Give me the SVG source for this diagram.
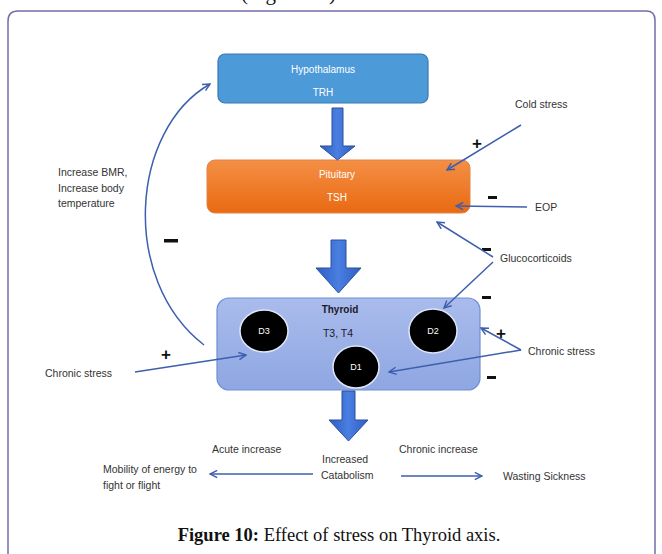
<svg xmlns="http://www.w3.org/2000/svg" width="662" height="554" viewBox="0 0 662 554">
<style>
.lbl{font-family:"Liberation Sans",Arial,sans-serif;font-size:10.5px;fill:#333333}
.wt{font-family:"Liberation Sans",Arial,sans-serif;font-size:10px;fill:#ffffff;text-anchor:middle}
.dk{font-family:"Liberation Sans",Arial,sans-serif;font-size:9px;fill:#ffffff;text-anchor:middle}
.sign{font-family:"Liberation Sans",Arial,sans-serif;font-weight:bold;fill:#111;font-size:17px}
.dash{fill:#111}
.con{fill:none;stroke:#3d5fae;stroke-width:1.5}
.blk{fill:url(#bg);stroke:#2c4f9c;stroke-width:1}
.cap{font-family:"Liberation Serif","Times New Roman",serif;font-size:18.5px;fill:#111}
</style>
<defs>
<marker id="ah" viewBox="0 0 10 10" refX="9" refY="5" markerWidth="9" markerHeight="9" orient="auto" markerUnits="userSpaceOnUse">
<path d="M1,1 L9,5 L1,9" fill="none" stroke="#3d5fae" stroke-width="1.6"/>
</marker>
<linearGradient id="bg" x1="0" y1="0" x2="1" y2="0">
<stop offset="0" stop-color="#2f5fc4"/><stop offset="0.5" stop-color="#4a7ee0"/><stop offset="1" stop-color="#2f5fc4"/>
</linearGradient>
<linearGradient id="og" x1="0" y1="0" x2="0" y2="1">
<stop offset="0" stop-color="#f48f45"/><stop offset="1" stop-color="#e96a12"/>
</linearGradient>
<linearGradient id="tg" x1="0" y1="0" x2="0" y2="1">
<stop offset="0" stop-color="#aabcec"/><stop offset="1" stop-color="#8ea6e2"/>
</linearGradient>
</defs>
<rect width="662" height="554" fill="#ffffff"/>
<text class="cap" x="241" y="0" style="font-size:21px">(Figure 10)</text>
<path d="M8,554 V21 Q8,11 18,11 H646 Q655,11 655,20 V554" fill="none" stroke="#6f6fa8" stroke-width="1.5"/>

<g id="hypothalamus">
<rect x="218" y="54" width="210" height="49" rx="7" fill="#4d9ad9" stroke="#3a78b5" stroke-width="1.2"/>
<text class="wt" x="323" y="73">Hypothalamus</text>
<text class="wt" x="323" y="96">TRH</text>
</g>
<g id="pituitary">
<rect x="207" y="160" width="263" height="53" rx="8" fill="url(#og)" stroke="#e0844a" stroke-width="1"/>
<text class="wt" x="337" y="178">Pituitary</text>
<text class="wt" x="337" y="201">TSH</text>
</g>
<g id="thyroid">
<rect x="217" y="298" width="263" height="92" rx="12" fill="url(#tg)" stroke="#6f8fd2" stroke-width="1.2"/>
<text x="340" y="313" style="font-family:'Liberation Sans',Arial,sans-serif;font-size:10px;font-weight:bold;fill:#1a1a2a;text-anchor:middle">Thyroid</text>
<text x="338" y="337" style="font-family:'Liberation Sans',Arial,sans-serif;font-size:10.5px;fill:#1a1a2a;text-anchor:middle">T3, T4</text>
</g>
<g id="d3">
<ellipse cx="264" cy="331" rx="24" ry="21" fill="#000" stroke="#dfe6f8" stroke-width="1.5"/>
<text class="dk" x="264" y="334">D3</text>
</g>
<g id="d2">
<ellipse cx="433" cy="331" rx="24" ry="22" fill="#000" stroke="#dfe6f8" stroke-width="1.5"/>
<text class="dk" x="433" y="334">D2</text>
</g>
<g id="d1">
<ellipse cx="356" cy="367" rx="23" ry="21" fill="#000" stroke="#dfe6f8" stroke-width="1.5"/>
<text class="dk" x="356" y="370">D1</text>
</g>

<g id="labels">
<text class="lbl" x="58" y="176">Increase BMR,</text>
<text class="lbl" x="58" y="192">Increase body</text>
<text class="lbl" x="58" y="207">temperature</text>
<text class="lbl" x="515" y="108">Cold stress</text>
<text class="lbl" x="535" y="211">EOP</text>
<text class="lbl" x="500" y="262">Glucocorticoids</text>
<text class="lbl" x="528" y="355">Chronic stress</text>
<text class="lbl" x="45" y="377">Chronic stress</text>
<text class="lbl" x="212" y="453">Acute increase</text>
<text class="lbl" x="399" y="453">Chronic increase</text>
<text class="lbl" x="322" y="463">Increased</text>
<text class="lbl" x="321" y="479">Catabolism</text>
<text class="lbl" x="103" y="473">Mobility of energy to</text>
<text class="lbl" x="103" y="489">fight or flight</text>
<text class="lbl" x="503" y="480">Wasting Sickness</text>
</g>
<g id="signs">
<text class="sign" x="472" y="149">+</text>
<text class="sign" x="496" y="339">+</text>
<text class="sign" x="161" y="360">+</text>
<rect class="dash" x="488" y="196" width="9" height="3"/>
<rect class="dash" x="482" y="248" width="9" height="3"/>
<rect class="dash" x="482" y="296" width="9" height="3"/>
<rect class="dash" x="487" y="376" width="9" height="3"/>
<rect class="dash" x="164" y="239" width="14" height="3.5"/>
</g>

<g id="connectors">
<path class="blk" d="M332,108 H343 V146 H355 L337.5,160 L320,146 H332 Z"/>
<path class="blk" d="M331,240 H346 V268 H361 L338.5,293 L316,268 H331 Z"/>
<path class="blk" d="M342,391 H355 V420 H368 L348.5,441 L329,420 H342 Z"/>
<path class="con" d="M204,345 C120,280 130,130 210,84" marker-end="url(#ah)"/>
<path class="con" d="M521,125 L447,170" marker-end="url(#ah)"/>
<path class="con" d="M527,207 L456,206" marker-end="url(#ah)"/>
<path class="con" d="M493,257 L437,222" marker-end="url(#ah)"/>
<path class="con" d="M493,262 L444,308" marker-end="url(#ah)"/>
<path class="con" d="M521,350 L481,328" marker-end="url(#ah)"/>
<path class="con" d="M521,350 L389,372" marker-end="url(#ah)"/>
<path class="con" d="M135,372 L246,355" marker-end="url(#ah)"/>
<path class="con" d="M313,474 L210,474" marker-end="url(#ah)"/>
<path class="con" d="M401,476 L482,476" marker-end="url(#ah)"/>
</g>

<text class="cap" x="339" y="541" text-anchor="middle"><tspan font-weight="bold">Figure 10:</tspan> Effect of stress on Thyroid axis.</text>
</svg>
